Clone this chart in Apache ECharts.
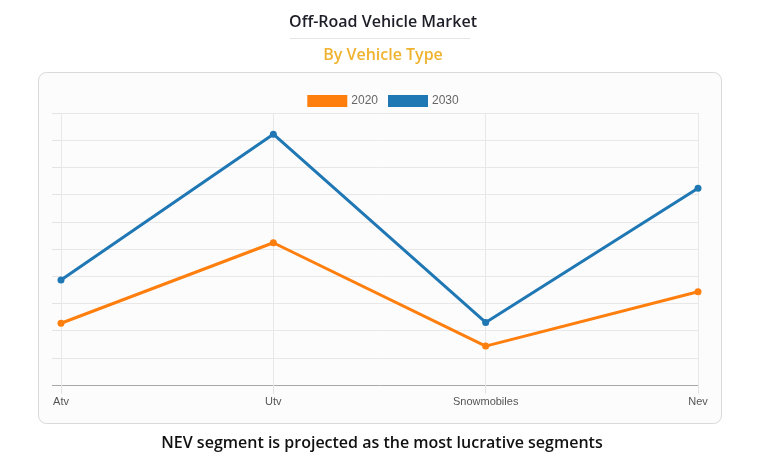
<!DOCTYPE html>
<html>
<head>
<meta charset="utf-8">
<script src="https://cdn.jsdelivr.net/npm/echarts@6/dist/echarts.min.js"></script>
<style>
html,body{margin:0;padding:0;background:#fff;}
#chart{width:766px;height:463px;}
</style>
</head>
<body>
<div id="chart"></div>
<script>
const categories = ['Atv', 'Utv', 'Snowmobiles', 'Nev'];
const series2020 = [2.27, 5.23, 1.43, 3.43];
const series2030 = [3.86, 9.22, 2.3, 7.23];
const seriesNames = ['2020', '2030'];

const chart = echarts.init(document.getElementById('chart'), null, {renderer: 'canvas'});
const option = {
  backgroundColor: '#ffffff',
  animation: false,
  title: [
    {text: 'Off-Road Vehicle Market', left: 'center', top: 9,
     textStyle: {fontFamily: 'Open Sans', fontSize: 16, fontWeight: 600, color: '#1e1e28'}},
    {text: 'By Vehicle Type', left: 'center', top: 42,
     textStyle: {fontFamily: 'Open Sans', fontSize: 16, fontWeight: 600, color: '#f0b32f'}},
    {text: 'NEV segment is projected as the most lucrative segments', left: 377, textAlign: 'center', top: 430,
     textStyle: {fontFamily: 'Open Sans', fontSize: 16, fontWeight: 600, color: '#111'}}
  ],
  graphic: [
    {type: 'rect', shape: {x: 38.5, y: 72.5, width: 683, height: 351, r: 8}, z: -10,
     style: {fill: '#fdfcfd', stroke: '#d9d9d9', lineWidth: 1}},
    {type: 'line', shape: {x1: 290, y1: 38.5, x2: 470, y2: 38.5}, z: -5,
     style: {stroke: '#e6e6e6', lineWidth: 1}},
    {type: 'line', shape: {x1: 52, y1: 385.5, x2: 61, y2: 385.5}, z: 5,
     style: {stroke: '#a8a8a8', lineWidth: 1}}
  ],
  legend: {
    top: 90, left: 'center',
    itemWidth: 40, itemHeight: 12, itemGap: 10, icon: 'rect',
    textStyle: {fontFamily: 'Liberation Sans', fontSize: 12, color: '#666', padding: [0, 0, 0, -1]},
    data: seriesNames
  },
  color: ['#ff7f0e', '#1f77b4'],
  grid: {left: 61, right: 68, top: 113, bottom: 78, containLabel: false},
  xAxis: {
    type: 'category', data: categories, boundaryGap: false,
    axisLine: {show: true, lineStyle: {color: '#a8a8a8', width: 1}},
    axisTick: {show: true, length: 9, lineStyle: {color: '#e4e4e4'}},
    splitLine: {show: true, showMinLine: true, showMaxLine: true, lineStyle: {color: '#e8e8e8'}},
    axisLabel: {fontFamily: 'Liberation Sans', fontSize: 11, color: '#555', margin: 11}
  },
  yAxis: {
    type: 'value', min: 0, max: 10, interval: 1,
    axisLine: {show: false},
    axisTick: {show: true, length: 9, lineStyle: {color: '#e4e4e4'}},
    axisLabel: {show: false},
    splitLine: {show: true, lineStyle: {color: '#e8e8e8'}}
  },
  series: [
    {name: seriesNames[0], type: 'line', data: series2020, symbol: 'circle', symbolSize: 7,
     lineStyle: {width: 3}, z: 3},
    {name: seriesNames[1], type: 'line', data: series2030, symbol: 'circle', symbolSize: 7,
     lineStyle: {width: 3}, z: 4}
  ]
};
chart.setOption(option);
</script>
</body>
</html>
